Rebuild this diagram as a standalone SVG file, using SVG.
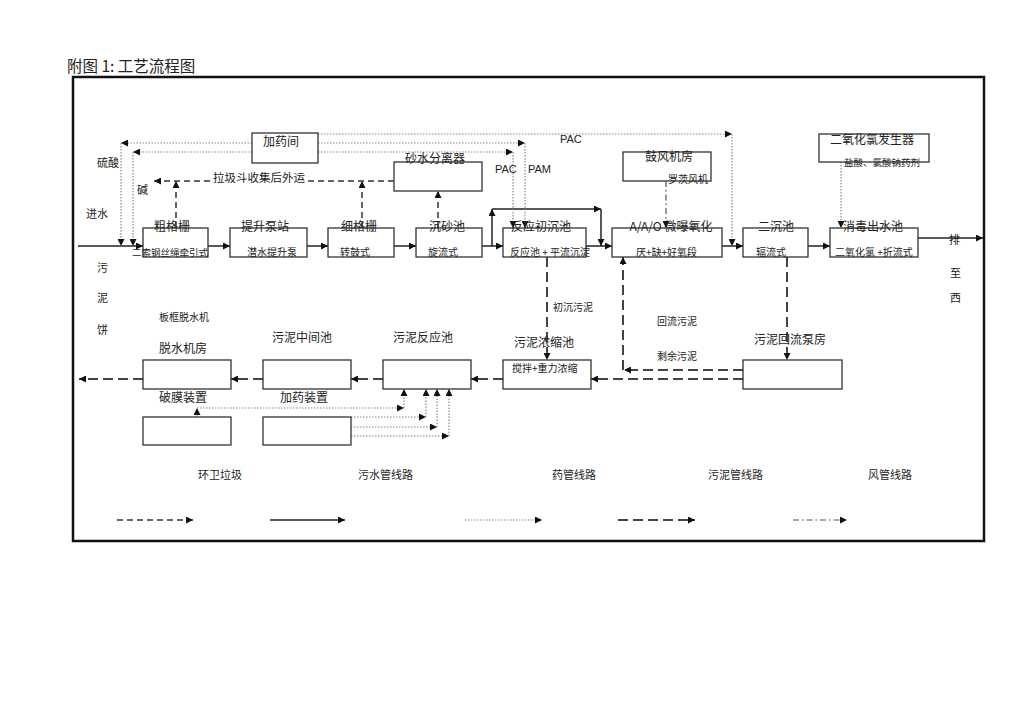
<svg xmlns="http://www.w3.org/2000/svg" width="1024" height="724" viewBox="0 0 1024 724">
<defs>
<marker id="ah" viewBox="0 0 10 10" refX="10" refY="5" markerWidth="8" markerHeight="7" markerUnits="userSpaceOnUse" orient="auto"><path d="M0,0L10,5L0,10z" fill="#111"/></marker>
</defs>
<style>
text{font-family:"Noto Sans CJK SC","Liberation Sans",sans-serif;fill:#222}
.t{font-size:12px;text-anchor:middle}
.s{font-size:10px}
.l{font-size:11px}
.box{fill:#fff;stroke:#333;stroke-width:1.3}
.w{fill:none;stroke:#222;stroke-width:1.5;marker-end:url(#ah)}
.g{fill:none;stroke:#333;stroke-width:1.5;stroke-dasharray:6 4;marker-end:url(#ah)}
.d{fill:none;stroke:#888;stroke-width:1.2;stroke-dasharray:1.5 1.5;marker-end:url(#ah)}
.m{fill:none;stroke:#444;stroke-width:2;stroke-dasharray:10 5;marker-end:url(#ah)}
.a{fill:none;stroke:#555;stroke-width:1.2;stroke-dasharray:6 3 1.5 3;marker-end:url(#ah)}
</style>
<rect width="1024" height="724" fill="#fff"/>
<text x="67" y="72" style="font-size:15.5px">附图 1: 工艺流程图</text>
<rect x="73" y="77" width="911" height="464" fill="none" stroke="#111" stroke-width="2.5"/>

<g id="connectors">
<path class="w" d="M78,246H143"/>
<path class="w" d="M208,246H230"/>
<path class="w" d="M307,246H328"/>
<path class="w" d="M394,246H416"/>
<path class="w" d="M482,246H503"/>
<path class="w" d="M586,246H612"/>
<path class="w" d="M722,246H743"/>
<path class="w" d="M808,246H830"/>
<path class="w" d="M918,238H983"/>
<path class="w" d="M492,246V209"/>
<path class="w" d="M492,209H601"/>
<path class="w" d="M601,209V246"/>

<path class="g" d="M176,228V181"/>
<path class="g" d="M362,228V181"/>
<path class="g" d="M438,228V191"/>
<path class="g" d="M394,181H305" style="marker-end:none"/>
<path class="g" d="M210,181H154"/>

<path class="d" d="M318,134H732"/>
<path class="d" d="M732,134V246"/>
<path class="d" d="M252,143H121"/>
<path class="d" d="M121,143V246"/>
<path class="d" d="M318,143H525"/>
<path class="d" d="M525,143V228"/>
<path class="d" d="M252,152H133"/>
<path class="d" d="M133,152V246"/>
<path class="d" d="M318,152H513"/>
<path class="d" d="M513,152V228"/>
<path class="d" d="M841,162V228"/>
<path class="d" d="M197,417V408"/>
<path class="d" d="M197,408H404"/>
<path class="d" d="M404,408V389"/>
<path class="d" d="M351,417H426"/>
<path class="d" d="M426,417V389"/>
<path class="d" d="M351,427H437"/>
<path class="d" d="M437,427V389"/>
<path class="d" d="M351,436H449"/>
<path class="d" d="M449,436V389"/>

<path class="a" d="M666,181V228"/>

<path class="m" d="M547,257V360"/>
<path class="m" d="M787,257V360"/>
<path class="m" d="M743,370H624"/>
<path class="m" d="M623,370V257"/>
<path class="m" d="M743,379H591"/>
<path class="m" d="M503,379H471"/>
<path class="m" d="M383,379H351"/>
<path class="m" d="M263,379H231"/>
<path class="m" d="M143,379H79"/>
</g>

<g id="n-cugeshan"><rect class="box" x="143" y="228" width="65" height="29"/><text class="t" x="172" y="231">粗格栅</text><text class="s" x="132" y="256" style="font-size:9.5px">二索钢丝绳牵引式</text></g>
<g id="n-tisheng"><rect class="box" x="230" y="228" width="77" height="29"/><text class="t" x="265" y="231">提升泵站</text><text class="s" x="247" y="256">潜水提升泵</text></g>
<g id="n-xigeshan"><rect class="box" x="328" y="228" width="66" height="29"/><text class="t" x="359" y="231">细格栅</text><text class="s" x="340" y="256">转鼓式</text></g>
<g id="n-chensha"><rect class="box" x="416" y="228" width="66" height="29"/><text class="t" x="447" y="231">沉砂池</text><text class="s" x="428" y="256">旋流式</text></g>
<g id="n-chuchen"><rect class="box" x="503" y="228" width="83" height="29"/><text class="t" x="541" y="231">反应初沉池</text><text class="s" x="510" y="256">反应池 + 平流沉淀</text></g>
<g id="n-aao"><rect class="box" x="612" y="228" width="110" height="29"/><text class="t" x="671" y="231">A/A/O 微曝氧化</text><text class="s" x="636" y="256">厌+缺+好氧段</text></g>
<g id="n-erchen"><rect class="box" x="743" y="228" width="65" height="29"/><text class="t" x="776" y="231">二沉池</text><text class="s" x="756" y="256">辐流式</text></g>
<g id="n-xiaodu"><rect class="box" x="830" y="228" width="88" height="29"/><text class="t" x="873" y="231">消毒出水池</text><text class="s" x="835" y="256">二氧化氯 +折流式</text></g>
<g id="n-jiayaojian"><rect class="box" x="252" y="133" width="66" height="30"/><text class="t" x="281" y="146">加药间</text></g>
<g id="n-shashui"><rect class="box" x="394" y="162" width="88" height="29"/><text class="t" x="435" y="163">砂水分离器</text></g>
<g id="n-gufeng"><rect class="box" x="623" y="152" width="88" height="29"/><text class="t" x="669" y="161">鼓风机房</text><text class="s" x="668" y="183">罗茨风机</text></g>
<g id="n-clo2"><rect class="box" x="819" y="134" width="110" height="28"/><text class="t" x="872" y="144">二氧化氯发生器</text><text class="s" x="844" y="166" style="font-size:9.5px">盐酸、氯酸钠药剂</text></g>
<g id="n-nongsuo"><rect class="box" x="503" y="360" width="88" height="29"/><text class="t" x="544" y="347">污泥浓缩池</text><text class="s" x="512" y="372">搅拌+重力浓缩</text></g>
<g id="n-huiliu"><rect class="box" x="743" y="360" width="99" height="29"/><text class="t" x="790" y="344">污泥回流泵房</text></g>
<g id="n-fanying"><rect class="box" x="383" y="360" width="88" height="29"/><text class="t" x="423" y="342">污泥反应池</text></g>
<g id="n-zhongjian"><rect class="box" x="263" y="360" width="88" height="29"/><text class="t" x="302" y="342">污泥中间池</text></g>
<g id="n-tuoshui"><rect class="box" x="143" y="360" width="88" height="29"/><text class="t" x="183" y="353">脱水机房</text><text class="s" x="159" y="321">板框脱水机</text></g>
<g id="n-pomo"><rect class="box" x="143" y="417" width="88" height="28"/><text class="t" x="183" y="402">破膜装置</text></g>
<g id="n-jiayao"><rect class="box" x="263" y="417" width="88" height="28"/><text class="t" x="304" y="402">加药装置</text></g>

<g id="labels">
<text class="l" x="213" y="182" style="font-size:11.5px">拉圾斗收集后外运</text>
<text class="l" x="97" y="167">硫酸</text>
<text class="l" x="137" y="194">碱</text>
<text class="l" x="86" y="218">进水</text>
<text class="l" x="97" y="272">污</text>
<text class="l" x="97" y="302">泥</text>
<text class="l" x="97" y="334">饼</text>
<text class="l" x="949" y="244">排</text>
<text class="l" x="950" y="277">至</text>
<text class="l" x="950" y="302">西</text>
<text x="560" y="143" style="font-size:11px;font-family:'Liberation Sans',sans-serif">PAC</text>
<text x="495" y="173" style="font-size:11px;font-family:'Liberation Sans',sans-serif">PAC</text>
<text x="528" y="173" style="font-size:11px;font-family:'Liberation Sans',sans-serif">PAM</text>
<text class="s" x="553" y="311">初沉污泥</text>
<text class="s" x="657" y="325">回流污泥</text>
<text class="s" x="657" y="360">剩余污泥</text>
</g>

<g id="legend">
<text class="l" x="198" y="479">环卫垃圾</text>
<text class="l" x="358" y="479">污水管线路</text>
<text class="l" x="552" y="479">药管线路</text>
<text class="l" x="708" y="479">污泥管线路</text>
<text class="l" x="868" y="479">风管线路</text>
<path class="g" d="M117,520H193"/>
<path class="w" d="M270,520H345"/>
<path class="d" d="M465,520H542"/>
<path class="m" d="M618,520H695"/>
<path class="a" d="M793,520H847"/>
</g>
</svg>
